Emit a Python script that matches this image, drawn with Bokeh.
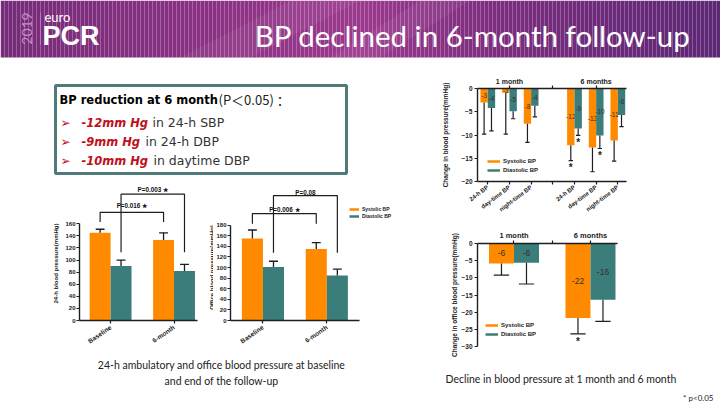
import numpy as np
from math import pi
from bokeh.plotting import figure
from bokeh.layouts import column, row
from bokeh.models import Range1d, FixedTicker, LinearAxis, Legend, LegendItem
from bokeh.core.properties import value
from bokeh.embed import file_html
from bokeh.resources import INLINE

# ---------------- data ----------------
series = ["Systolic BP", "Diastolic BP"]

left_groups = ["Baseline", "6-month"]
amb_sys = [145, 133]
amb_sys_err = [6, 12]
amb_dia = [90, 82]
amb_dia_err = [10, 11]
amb_pvals = ["P=0.016 ★", "P=0.003 ★"]      # systolic pair, diastolic pair

off_sys = [155, 135]
off_sys_err = [16, 12]
off_dia = [101, 85]
off_dia_err = [11, 12]
off_pvals = ["P=0.006 ★", "P=0.08"]

periods = ["1 month", "6 months"]
measures = ["24-h BP", "day-time BP", "night-time BP"]

chg_sys_1m = [-3.0, -0.9, -7.6]
chg_sys_1m_err = [6.8, 8.9, 4.0]
chg_dia_1m = [-4.2, -4.9, -3.7]
chg_dia_1m_err = [4.9, 1.6, 2.4]
chg_sys_6m = [-12.2, -12.7, -11.2]
chg_sys_6m_err = [3.3, 5.2, 4.4]
chg_dia_6m = [-8.6, -10.1, -5.7]
chg_dia_6m_err = [1.5, 2.8, 2.5]
chg_sys_sig = [False, False, False, True, False, False]
chg_dia_sig = [False, False, False, True, True, False]

off_chg_sys = [-5.8, -21.7]
off_chg_sys_err = [3.4, 4.6]
off_chg_dia = [-5.6, -16.4]
off_chg_dia_err = [6.2, 6.3]
off_chg_sys_sig = [False, True]
off_chg_dia_sig = [False, False]

# ---------------- styles ----------------
ORANGE = "#ff8a00"
TEAL = "#3a7d7b"
DARK = "#1e1e1e"
FONT = "Liberation Sans"
TXT = "Lato"
BOX = "DejaVu Sans"


def canvas(x0, y0, w, h, mb=(0, 0, 0, 0)):
    """Plain drawing area in page pixel coordinates (frame = inner area)."""
    fx0, fy0 = x0 + mb[0], y0 + mb[2]
    fw, fh = w - mb[0] - mb[1], h - mb[2] - mb[3]
    p = figure(width=w, height=h, x_range=Range1d(fx0, fx0 + fw), y_range=Range1d(fy0 + fh, fy0),
               x_axis_type=None, y_axis_type=None, output_backend="svg",
               toolbar_location=None, min_border_left=mb[0], min_border_right=mb[1],
               min_border_top=mb[2], min_border_bottom=mb[3])
    p.outline_line_color = None
    p.background_fill_color = "white"
    p.border_fill_color = "white"
    return p


def chart(w, h, mb, xr, yr):
    p = figure(width=w, height=h, x_range=Range1d(*xr), y_range=Range1d(*yr),
               x_axis_type=None, y_axis_type=None, output_backend="svg",
               toolbar_location=None, min_border_left=mb[0], min_border_right=mb[1],
               min_border_top=mb[2], min_border_bottom=mb[3])
    p.outline_line_color = None
    p.background_fill_color = "white"
    p.border_fill_color = "white"
    return p


def style_axis(ax, size="6px"):
    ax.axis_line_color = DARK
    ax.axis_line_width = 1.4
    ax.major_tick_line_color = DARK
    ax.major_tick_line_width = 1.2
    ax.major_tick_out = 3
    ax.major_tick_in = 0
    ax.minor_tick_line_color = None
    ax.major_label_text_font = FONT
    ax.major_label_text_font_size = size
    ax.major_label_text_font_style = "bold"
    ax.major_label_text_color = "#222222"
    ax.major_label_standoff = 2
    ax.axis_label_text_font = FONT
    ax.axis_label_text_font_style = "bold"
    ax.axis_label_text_color = "#222222"


def add_legend(p, loc, gw, gh, size):
    r1 = p.line([np.nan, np.nan], [np.nan, np.nan], line_color=ORANGE, line_width=2.5)
    r2 = p.line([np.nan, np.nan], [np.nan, np.nan], line_color=TEAL, line_width=2.5)
    lg = Legend(items=[LegendItem(label=series[0], renderers=[r1]),
                       LegendItem(label=series[1], renderers=[r2])],
                location=loc, padding=0, margin=0, spacing=1, glyph_width=gw,
                glyph_height=gh, label_height=gh, label_standoff=3,
                label_text_font=FONT, label_text_font_size=size,
                label_text_font_style="bold", label_text_color="#222222",
                background_fill_alpha=0, border_line_color=None)
    p.add_layout(lg)


# ---------------- header ----------------
hdr = canvas(0, 0, 720, 62)
stops = [(0.0, (118, 44, 122)), (0.3, (140, 50, 132)), (0.5, (156, 58, 142)),
         (0.68, (126, 46, 128)), (1.0, (92, 40, 118))]
n = 180
xs = np.linspace(0, 720, n + 1)
cols = []
for i in range(n):
    t = (xs[i] + xs[i + 1]) / 2 / 720
    for k in range(len(stops) - 1):
        if stops[k][0] <= t <= stops[k + 1][0]:
            a, ca = stops[k]
            b, cb = stops[k + 1]
            f = (t - a) / (b - a)
            c = tuple(int(ca[j] + (cb[j] - ca[j]) * f) for j in range(3))
            cols.append("#%02x%02x%02x" % c)
            break
hdr.quad(left=xs[:-1], right=xs[1:], top=0, bottom=57, fill_color=cols, line_color=None)
hdr.patches(xs=[[180, 290, 360, 250], [330, 420, 470, 380]], ys=[[57, 0, 0, 57], [57, 0, 0, 57]],
            fill_color="white", fill_alpha=0.06, line_color=None)
hdr.text(x=[26], y=[28], text=["2019"], angle=pi / 2, text_font=value(TXT),
         text_font_size="14px", text_color="#c690c6", text_align="center", text_baseline="middle")
hdr.segment(x0=[40], y0=[12], x1=[40], y1=[44], line_color="#b57cb5", line_width=1)
hdr.text(x=[44], y=[16], text=["euro"], text_font=value(TXT), text_font_size="13px",
         text_color="white", text_align="left", text_baseline="middle")
hdr.text(x=[42], y=[35], text=["PCR"], text_font=value(FONT), text_font_size="27px",
         text_font_style="bold", text_color="white", text_align="left", text_baseline="middle")
hdr.text(x=[690], y=[35], text=["BP declined in 6-month follow-up"], text_font=value(TXT),
         text_font_size="29.5px", text_color="white", text_align="right", text_baseline="middle")

# ---------------- text box ----------------
tb = canvas(0, 62, 430, 118)
tb.quad(left=55, right=346, top=85, bottom=173, fill_color=None, line_color="#4e7b7a", line_width=3)
tb.text(x=[59], y=[99], text=["BP reduction at 6 month"], text_font=value(BOX), text_font_size="11.5px",
        text_font_style="bold", text_color="black", text_baseline="middle")
tb.text(x=[218], y=[99], text=["(P＜0.05) ："], text_font=value("Noto Sans CJK SC"),
        text_font_size="13px", text_color="#222222", text_baseline="middle")
tb.text(x=[60, 60, 60], y=[122, 141, 160], text=["➢", "➢", "➢"], text_font=value(BOX),
        text_font_size="12px", text_color="#c0101a", text_baseline="middle")
tb.text(x=[81, 81, 81], y=[122, 141, 160], text=["-12mm Hg", "-9mm Hg", "-10mm Hg"],
        text_font=value(BOX), text_font_size="11.5px", text_font_style="bold italic",
        text_color="#c0101a", text_baseline="middle")
tb.text(x=[152, 145, 153], y=[122, 141, 160], text=["in 24-h SBP", "in 24-h DBP", "in daytime DBP"],
        text_font=value(BOX), text_font_size="12.5px", text_color="#333333", text_baseline="middle")

# ---------------- left charts ----------------
W = 0.33
gx = np.arange(len(left_groups))
sx = gx - W / 2
dx = gx + W / 2
LMB = (4, 36)   # top / bottom borders shared by the left charts row


def left_bars(p, sys, sys_e, dia, dia_e):
    p.vbar(x=sx, top=sys, bottom=0, width=W, fill_color=ORANGE, line_color=None)
    p.vbar(x=dx, top=dia, bottom=0, width=W, fill_color=TEAL, line_color=None)
    for xx, v, e in ((sx, sys, sys_e), (dx, dia, dia_e)):
        top = np.array(v) + np.array(e)
        p.segment(x0=xx, y0=v, x1=xx, y1=top, line_color=DARK, line_width=1.3)
        p.segment(x0=xx - 0.07, y0=top, x1=xx + 0.07, y1=top, line_color=DARK, line_width=1.3)


def bracket(p, xl, xr, ytop, yarm, txt, ytxt):
    p.multi_line(xs=[[xl, xl, xr, xr]], ys=[[yarm, ytop, ytop, yarm]], line_color=DARK, line_width=1.2)
    p.text(x=[(xl + xr) / 2], y=[ytxt], text=[txt], text_font=value(FONT), text_font_size="6.3px",
           text_font_style="bold", text_color="#111111", text_align="center", text_baseline="middle")


def left_axes(p, yticks, bounds):
    ya = LinearAxis(ticker=FixedTicker(ticks=yticks), bounds=bounds)
    style_axis(ya, "6px")
    ya.major_label_standoff = 1
    p.add_layout(ya, "left")
    xa = LinearAxis(ticker=FixedTicker(ticks=list(gx)),
                    major_label_overrides={int(i): g for i, g in enumerate(left_groups)})
    style_axis(xa, "6.5px")
    xa.major_label_orientation = 0.6
    xa.major_label_standoff = 3
    p.add_layout(xa, "below")


def ylab_canvas(x0, w, xc, yc, text):
    lab = canvas(x0, 180, w, 176, mb=(0, 0, LMB[0], LMB[1]))
    lab.text(x=[xc], y=[yc], text=[text], angle=pi / 2, text_font=value(FONT), text_font_size="6px",
             text_font_style="bold", text_color="#222222", text_align="center", text_baseline="middle")
    return lab


lab1 = ylab_canvas(0, 62, 55, 263, "24-h blood pressure(mmHg)")
c1 = chart(138, 176, (14, 3, LMB[0], LMB[1]), (-0.49, 1.37), (0, 225))
left_bars(c1, amb_sys, amb_sys_err, amb_dia, amb_dia_err)
bracket(c1, sx[0], sx[1], 179, 163, amb_pvals[0], 190)
bracket(c1, dx[0], dx[1], 209, 113, amb_pvals[1], 216)
left_axes(c1, list(range(0, 161, 20)), (0, 160))

lab2 = ylab_canvas(200, 13, 211, 267, "Office blood pressure(mmHg)")
c2 = chart(217, 176, (14, 30, LMB[0], LMB[1]), (-0.508, 2.154), (0, 257))
left_bars(c2, off_sys, off_sys_err, off_dia, off_dia_err)
bracket(c2, sx[0], sx[1], 202, 183, off_pvals[0], 210)
bracket(c2, dx[0], dx[1], 236, 128, off_pvals[1], 242)
left_axes(c2, list(range(0, 181, 20)), (0, 180))
c2.xaxis.bounds = (-0.508, 1.508)
add_legend(c2, (119, 101), 10, 6, "5px")

# ---------------- left caption ----------------
capL = canvas(0, 356, 430, 49)
capL.text(x=[221, 221], y=[364, 380],
          text=["24-h ambulatory and office blood pressure at baseline", "and end of the follow-up"],
          text_font=value(TXT), text_font_size="10.5px", text_color="#222222",
          text_align="center", text_baseline="middle")

# ---------------- right charts (same left/right borders) ----------------
RB = (47, 94)

# chart 3: change in ambulatory BP
W3 = 0.34
idx = np.array([0, 1, 2, 4, 5, 6])
c3 = chart(290, 155, (RB[0], RB[1], 26, 33), (-0.475, 6.40), (-20, 0))
s3 = np.array(chg_sys_1m + chg_sys_6m)
s3e = np.array(chg_sys_1m_err + chg_sys_6m_err)
d3 = np.array(chg_dia_1m + chg_dia_6m)
d3e = np.array(chg_dia_1m_err + chg_dia_6m_err)


def change_bars(p, xpos, vals, errs, sig, color, w, cap, fsize, star_off):
    p.vbar(x=xpos, top=0, bottom=vals, width=w, fill_color=color, line_color=None)
    low = vals - errs
    p.segment(x0=xpos, y0=vals, x1=xpos, y1=low, line_color=DARK, line_width=1.2)
    p.segment(x0=xpos - cap, y0=low, x1=xpos + cap, y1=low, line_color=DARK, line_width=1.2)
    p.text(x=xpos, y=vals / 2, text=[f"{round(v):d}" for v in vals], text_font=value(FONT),
           text_font_size=fsize, text_color="#3a2e28", text_align="center", text_baseline="middle")
    sxp = [x for x, s in zip(xpos, sig) if s]
    syp = [l - star_off for l, s in zip(low, sig) if s]
    p.text(x=sxp, y=syp, text=["*"] * len(sxp), text_font=value(FONT), text_font_size="10px",
           text_font_style="bold", text_color=DARK, text_align="center", text_baseline="top")


change_bars(c3, idx - W3 / 2, s3, s3e, chg_sys_sig, ORANGE, W3, 0.1, "6.5px", 0.3)
change_bars(c3, idx + W3 / 2, d3, d3e, chg_dia_sig, TEAL, W3, 0.1, "6.5px", 0.3)

ya3 = LinearAxis(ticker=FixedTicker(ticks=[0, -5, -10, -15, -20]))
style_axis(ya3, "6.5px")
ya3.axis_label = "Change in blood pressure(mmHg)"
ya3.axis_label_text_font_size = "6.5px"
ya3.axis_label_standoff = 9
c3.add_layout(ya3, "left")
xb3 = LinearAxis(ticker=FixedTicker(ticks=list(range(7))),
                 major_label_overrides={**{int(i): m for i, m in zip(idx[:3], measures)},
                                        3: "",
                                        **{int(i): m for i, m in zip(idx[3:], measures)}})
style_axis(xb3, "6px")
xb3.major_label_orientation = 0.65
c3.add_layout(xb3, "below")
xt3 = LinearAxis(ticker=FixedTicker(ticks=[1, 3, 5]),
                 major_label_overrides={1: periods[0], 3: "", 5: periods[1]})
style_axis(xt3, "7px")
xt3.major_label_standoff = 1
c3.add_layout(xt3, "above")
add_legend(c3, (10, 7), 13, 8, "6px")

# chart 4: change in office BP
W4 = 0.327
c4 = chart(290, 150, (RB[0], RB[1], 26, 21), (-0.477, 1.471), (-30, 0))
g4 = np.arange(len(periods))
change_bars(c4, g4 - W4 / 2, np.array(off_chg_sys), np.array(off_chg_sys_err), off_chg_sys_sig,
            ORANGE, W4, 0.1, "8.5px", 0.5)
change_bars(c4, g4 + W4 / 2, np.array(off_chg_dia), np.array(off_chg_dia_err), off_chg_dia_sig,
            TEAL, W4, 0.1, "8.5px", 0.5)
ya4 = LinearAxis(ticker=FixedTicker(ticks=[0, -5, -10, -15, -20, -25, -30]))
style_axis(ya4, "6.5px")
ya4.axis_label = "Change in office blood pressure(mmHg)"
ya4.axis_label_text_font_size = "6.5px"
ya4.axis_label_standoff = 0
c4.add_layout(ya4, "left")
xt4 = LinearAxis(ticker=FixedTicker(ticks=[0, 0.5, 1]), bounds=(-0.477, 1.353),
                 major_label_overrides={0: periods[0], 0.5: "", 1: periods[1]})
style_axis(xt4, "7.5px")
xt4.major_label_standoff = 1
c4.add_layout(xt4, "above")
add_legend(c4, (8, 8), 13, 8, "6px")

# ---------------- right caption ----------------
capR = canvas(430, 367, 290, 38)
capR.text(x=[445], y=[378], text=["Decline in blood pressure at 1 month and 6 month"],
          text_font=value(TXT), text_font_size="10.5px", text_color="#222222",
          text_align="left", text_baseline="middle")
capR.text(x=[713], y=[397], text=["* p<0.05"], text_font=value(TXT), text_font_size="8px",
          text_color="#222222", text_align="right", text_baseline="middle")

left = column(tb, row(lab1, c1, lab2, c2), capL)
right = column(row(c3), row(c4), row(capR))
layout = column(hdr, row(left, right))

with open("out.html", "w") as f:
    f.write(file_html(layout, INLINE))
